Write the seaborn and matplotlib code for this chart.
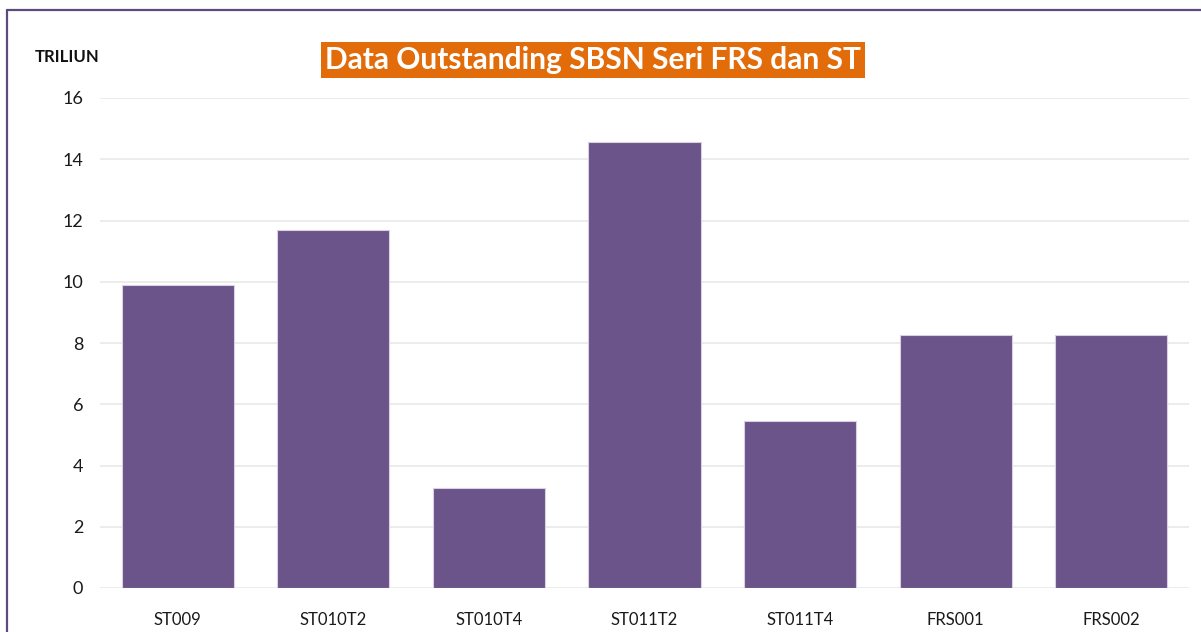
import matplotlib
matplotlib.use("Agg")
import matplotlib.pyplot as plt
import seaborn as sns
import pandas as pd
from matplotlib.lines import Line2D

# Data
series = ["ST009", "ST010T2", "ST010T4", "ST011T2", "ST011T4", "FRS001", "FRS002"]
outstanding = [9.9, 11.7, 3.25, 14.55, 5.45, 8.25, 8.25]
yticks = [0, 2, 4, 6, 8, 10, 12, 14, 16]

df = pd.DataFrame({"seri": series, "triliun": outstanding})

sns.set_style("white")
plt.rcParams["font.family"] = ["Lato", "DejaVu Sans"]

fig = plt.figure(figsize=(12.01, 6.32), dpi=100)
ax = fig.add_axes([100 / 1201, 44 / 632, 1089 / 1201, 490 / 632])

sns.barplot(data=df, x="seri", y="triliun", color="#6a5489", saturation=1,
            width=0.72, edgecolor="#d9d0e4", linewidth=0.8, ax=ax, zorder=3)

ax.set_ylim(0, 16)
ax.set_xlim(-0.5, 6.5)
ax.set_yticks(yticks)
ax.yaxis.grid(True, color="#ececec", linewidth=1.4, zorder=0)
ax.set_axisbelow(True)
for s in ax.spines.values():
    s.set_visible(False)
ax.tick_params(axis="y", length=0, pad=12, labelsize=13, labelcolor="#1a1a1a")
ax.tick_params(axis="x", length=0, pad=17, labelsize=12, labelcolor="#1a1a1a")
ax.set_xlabel("")
ax.set_ylabel("")

fig.text(35 / 1201, 1 - 57 / 632, "TRILIUN", fontsize=12, fontweight="bold",
         color="#111111", ha="left", va="center")

fig.text(593 / 1201, 1 - 60 / 632, "Data Outstanding SBSN Seri FRS dan ST",
         fontsize=21.5, fontweight="bold", color="white", ha="center", va="center",
         bbox=dict(boxstyle="square,pad=0.12", facecolor="#e36c0a", edgecolor="none"))

# outer frame
fig.add_artist(Line2D([7 / 1201, 7 / 1201], [0, 1 - 10 / 632], color="#5e4b7e",
                      linewidth=1.6, transform=fig.transFigure))
fig.add_artist(Line2D([7 / 1201, 1], [1 - 10 / 632, 1 - 10 / 632], color="#5e4b7e",
                      linewidth=1.6, transform=fig.transFigure))

fig.savefig("out.png", dpi=100)
